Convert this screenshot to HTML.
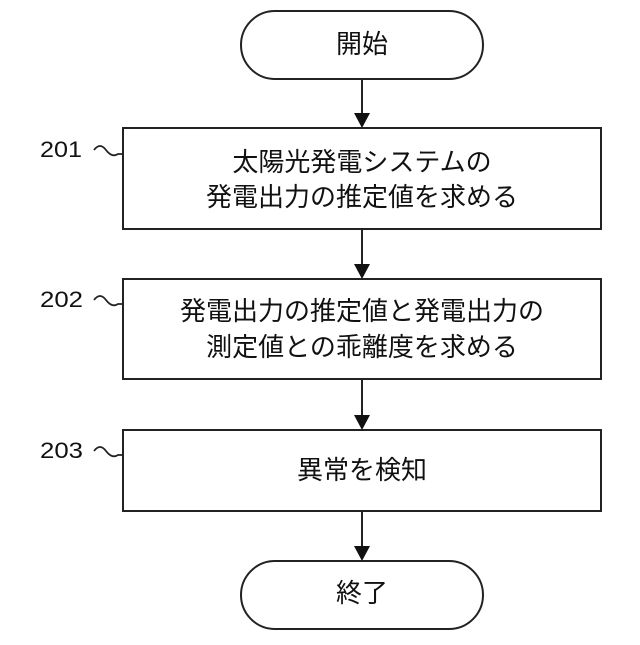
<!DOCTYPE html>
<html><head><meta charset="utf-8"><style>
html,body{margin:0;padding:0;background:#fff;}
svg text{font-family:"Liberation Sans","Noto Sans CJK JP",sans-serif;fill:#111;}
</style></head><body>
<svg width="640" height="640" viewBox="0 0 640 640" xmlns="http://www.w3.org/2000/svg">
<g fill="none" stroke="#222" stroke-width="2">
<rect x="241" y="11" width="242" height="68" rx="34"/>
<rect x="123" y="128" width="478" height="101"/>
<rect x="123" y="279" width="478" height="100"/>
<rect x="123" y="430" width="478" height="81"/>
<rect x="241" y="561" width="242" height="68" rx="34"/>
<line x1="362" y1="79" x2="362" y2="114"/>
<line x1="362" y1="229" x2="362" y2="265"/>
<line x1="362" y1="379" x2="362" y2="416"/>
<line x1="362" y1="511" x2="362" y2="547"/>
<path d="M94 150 q6 -8 12 0 t12 4 l5 0" stroke-width="1.8"/>
<path d="M94 300 q6 -8 12 0 t12 4 l5 0" stroke-width="1.8"/>
<path d="M94 451 q6 -8 12 0 t12 4 l5 0" stroke-width="1.8"/>
</g>
<g fill="#111">
<polygon points="354,113 370,113 362,128"/>
<polygon points="354,264 370,264 362,279"/>
<polygon points="354,415 370,415 362,430"/>
<polygon points="354,546 370,546 362,561"/>
</g>
<g font-size="26" text-anchor="middle">
<text x="362" y="53">開始</text>
<text x="362" y="171">太陽光発電システムの</text>
<text x="362" y="206">発電出力の推定値を求める</text>
<text x="362" y="320">発電出力の推定値と発電出力の</text>
<text x="362" y="356">測定値との乖離度を求める</text>
<text x="362" y="479">異常を検知</text>
<text x="362" y="602">終了</text>
</g>
<g font-size="22" text-anchor="start">
<text x="40" y="157" textLength="42" lengthAdjust="spacingAndGlyphs">201</text>
<text x="40" y="307" textLength="43" lengthAdjust="spacingAndGlyphs">202</text>
<text x="40" y="458" textLength="43" lengthAdjust="spacingAndGlyphs">203</text>
</g>
</svg>
</body></html>
